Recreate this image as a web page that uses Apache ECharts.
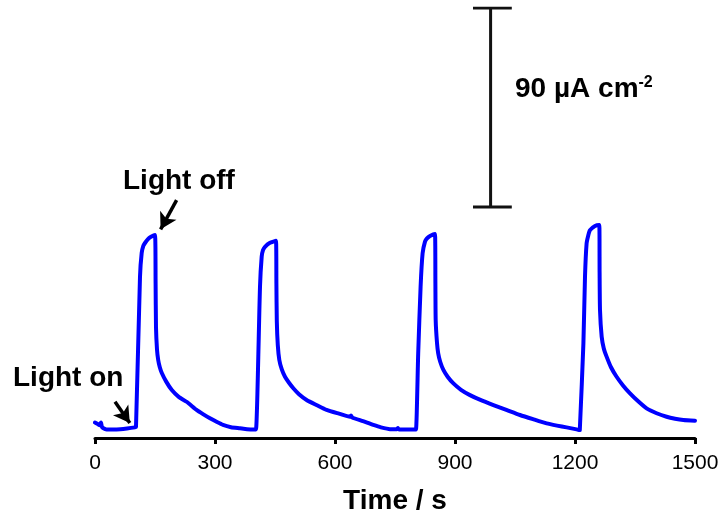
<!DOCTYPE html>
<html>
<head>
<meta charset="utf-8">
<script src="https://cdn.jsdelivr.net/npm/echarts@6/dist/echarts.min.js"></script>
<style>
  html, body { margin: 0; padding: 0; background: #fff; }
  #chart { width: 720px; height: 515px; }
</style>
</head>
<body>
<div id="chart"></div>
<script>
// photocurrent trace, time in s, current density in µA cm-2 (offset, y axis hidden)
var timeS = [
  0, 6, 12, 15, 17, 20, 29, 54, 80, 100,
  102.5, 112.5, 116.7, 121, 125, 132.5, 140, 150,
  151.5, 152.5, 155, 158, 162, 167, 178, 192, 210, 229, 254, 270, 287.5, 305, 320, 340, 362.5, 380,
  400, 402.5, 412.5, 416.7, 420, 425, 437.5, 452.5,
  453.5, 454.5, 457, 460.8, 467, 475, 485, 495.8, 510, 529, 555, 579, 610, 637.5, 640, 643, 670, 695.8, 715, 737.5, 755, 757, 760,
  800, 802.5, 808, 814, 819, 825, 830, 837.5, 850,
  851, 851.7, 855, 858, 863, 871, 882, 896, 915, 937.5, 965, 996, 1030, 1062.5, 1095, 1129, 1155, 1179, 1204,
  1212, 1213, 1221, 1225, 1229, 1233, 1237.5, 1250, 1260.8,
  1261.5, 1262.5, 1266.7, 1272, 1279, 1290, 1304, 1320, 1337.5, 1358, 1379, 1404, 1429, 1450, 1471, 1500
];
var current = [
  7.0, 6.4, 5.8, 7.0, 5.2, 4.5, 3.9, 3.9, 4.3, 4.8,
  5.0, 73, 83.7, 87, 88.2, 90, 91, 91.8,
  70, 50, 40, 35.3, 32, 29.4, 25.5, 21.7, 18.5, 16.4, 12.7, 10.8, 8.9, 7.2, 5.9, 4.9, 4.4, 4.0,
  3.9, 3.9, 68.4, 82, 85, 86.5, 88.3, 89.2,
  70, 53, 42, 35.3, 31, 27.7, 25, 22.5, 19.8, 17.2, 14.8, 12.7, 11, 9.6, 10.2, 9.3, 7.6, 5.9, 4.8, 4.0, 4.0, 4.5, 3.9,
  3.9, 3.9, 38.3, 68.4, 83.5, 88.8, 90.3, 91.4, 92.3,
  70, 53.4, 43, 38.3, 34.5, 30.8, 27.6, 24.7, 21.8, 19.4, 17.1, 14.9, 12.6, 10.4, 8.5, 6.6, 5.6, 4.8, 3.9,
  3.6, 3.6, 42.8, 73, 88, 91.5, 94, 95.9, 96.3,
  75, 57.9, 45.8, 40.5, 36.8, 32, 27.7, 23.8, 20.2, 16.6, 13.4, 11.2, 9.6, 8.7, 8.1, 7.8
];
var xTicks = [0, 300, 600, 900, 1200, 1500];

// 90 µA cm-2 scale bar
var scaleBarTime = 989;
var scaleBarCapTime = [945, 1042];
var scaleBarCurrent = [104.5, 194.5];

// annotation arrows: [from, to] in (time, current)
var arrowOn = [[50, 16.4], [87, 6.8]];
var arrowOff = [[204, 107.6], [164, 94.4]];

var FONT = '"Liberation Sans", Arial, sans-serif';

var chart = echarts.init(document.getElementById('chart'));

var trace = timeS.map(function (t, i) { return [t, current[i]]; });

function seg(a, b) {
  return {
    type: 'line', data: [a, b], showSymbol: false, symbol: 'none',
    lineStyle: { color: '#111', width: 3 }, silent: true, z: 3
  };
}

chart.setOption({
  animation: false,
  grid: { left: 95, right: 25, top: 8, bottom: 77, outerBoundsMode: 'none', containLabel: false },
  xAxis: {
    type: 'value', min: 0, max: 1500, interval: 300,
    axisLine: { lineStyle: { color: '#000', width: 3 } },
    axisTick: { length: 6, lineStyle: { color: '#000', width: 3 } },
    axisLabel: { fontSize: 21, color: '#000', fontFamily: FONT, margin: 15,
      formatter: function (v) { return xTicks.indexOf(v) >= 0 ? String(v) : ''; } },
    splitLine: { show: false },
    name: 'Time / s', nameLocation: 'middle', nameGap: 49,
    nameTextStyle: { fontSize: 28, fontWeight: 'bold', color: '#000', fontFamily: FONT }
  },
  yAxis: { type: 'value', min: 0, max: 194.5, show: false },
  series: [
    {
      type: 'line', data: trace, showSymbol: false, symbol: 'none',
      smooth: 0.2,
      lineStyle: { color: '#0000ff', width: 4, join: 'round', cap: 'round' }, z: 5,
      markLine: {
        silent: true, symbol: ['none', 'arrow'], symbolSize: [14, 16],
        lineStyle: { color: '#000', width: 3.5, type: 'solid' },
        label: { show: false },
        data: [
          [{ coord: arrowOn[0] }, { coord: arrowOn[1] }],
          [{ coord: arrowOff[0] }, { coord: arrowOff[1] }]
        ]
      }
    },
    seg([scaleBarTime, scaleBarCurrent[0]], [scaleBarTime, scaleBarCurrent[1]]),
    seg([scaleBarCapTime[0], scaleBarCurrent[0]], [scaleBarCapTime[1], scaleBarCurrent[0]]),
    seg([scaleBarCapTime[0], scaleBarCurrent[1]], [scaleBarCapTime[1], scaleBarCurrent[1]])
  ],
  graphic: [
    { type: 'text', left: 13, top: 364, style: { text: 'Light on', font: 'bold 28px ' + FONT, fill: '#000' } },
    { type: 'text', left: 123, top: 167, style: { text: 'Light off', font: 'bold 28px ' + FONT, fill: '#000' } },
    { type: 'text', left: 515, top: 75, style: {
      text: '{a|90 µA cm}{b|-2}', fill: '#000',
      rich: {
        a: { fontSize: 28, fontWeight: 'bold', fontFamily: FONT, color: '#000', lineHeight: 28 },
        b: { fontSize: 16, fontWeight: 'bold', fontFamily: FONT, color: '#000', verticalAlign: 'top', lineHeight: 16 }
      }
    } }
  ]
});
</script>
</body>
</html>
